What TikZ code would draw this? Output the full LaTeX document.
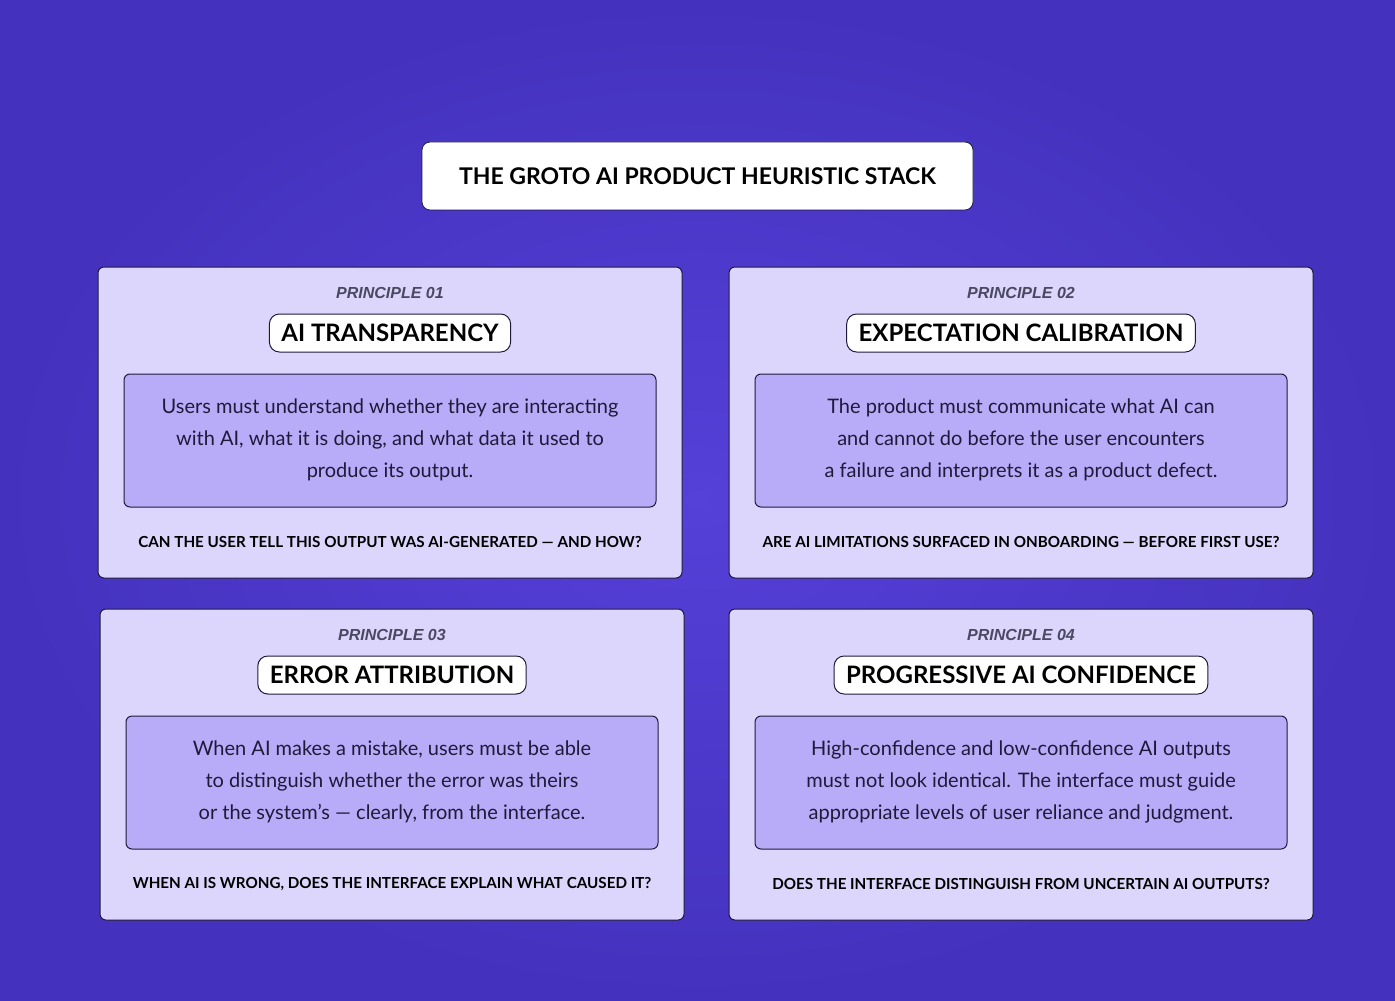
\documentclass[tikz,border=0pt]{standalone}
\usepackage{fontspec}
\setmainfont{Lato}
\newfontfamily\prinfont{Liberation Sans}
\usetikzlibrary{positioning}
\definecolor{bgmid}{HTML}{5540D8}
\definecolor{bgedge}{HTML}{4432BE}
\definecolor{cardfill}{HTML}{DCD6FC}
\definecolor{innerfill}{HTML}{B8ACF8}
\definecolor{inkline}{HTML}{1E1A3A}
\tikzset{
  cardbox/.style={draw=inkline, fill=cardfill, rounded corners=3pt, line width=0.5pt},
  innerbox/.style={draw=inkline, fill=innerfill, rounded corners=3pt, line width=0.5pt},
  tagbox/.style={draw=inkline, fill=white, rounded corners=5pt, line width=0.5pt,
    minimum height=19pt, font=\fontsize{12}{14}\selectfont\bfseries, inner xsep=6pt},
  prinlabel/.style={font=\prinfont\fontsize{8}{10}\selectfont\bfseries\itshape, text=inkline!80},
  bodytext/.style={align=center, font=\fontsize{10}{16}\selectfont, text=inkline},
  asktext/.style={font=\fontsize{7.6}{9}\selectfont\bfseries, text=black}
}
% one principle card: name, left x, top y, number, title, body, question
\newcommand{\principlecard}[7]{
  \draw[cardbox] (#2,#3) rectangle ++(584,311);
  \node[prinlabel] (#1lab) at (#2+292,#3+26) {PRINCIPLE #4};
  \node[tagbox] (#1tag) at (#2+292,#3+66) {#5};
  \draw[innerbox] (#2+26,#3+107) rectangle ++(532,133);
  \node[bodytext] (#1body) at (#2+292,#3+173) {#6};
  \node[asktext] (#1ask) at (#2+292,#3+275) {#7};
}
\begin{document}
\begin{tikzpicture}[x=0.5pt,y=-0.5pt]
\shade[inner color=bgmid, outer color=bgedge] (0,0) rectangle (1395,1000);
\useasboundingbox (0,0) rectangle (1395,1000);

% title
\node[draw=inkline, fill=white, rounded corners=4pt, minimum width=275.5pt, minimum height=34pt,
  font=\fontsize{11.5}{13}\selectfont\bfseries] (stack) at (697.5,176) {THE GROTO AI PRODUCT HEURISTIC STACK};

\principlecard{p1}{98}{267}{01}{AI TRANSPARENCY}
  {Users must understand whether they are interacting\\with AI, what it is doing, and what data it used to\\produce its output.}
  {CAN THE USER TELL THIS OUTPUT WAS AI-GENERATED — AND HOW?}
\principlecard{p2}{729}{267}{02}{EXPECTATION CALIBRATION}
  {The product must communicate what AI can\\and cannot do before the user encounters\\a failure and interprets it as a product defect.}
  {ARE AI LIMITATIONS SURFACED IN ONBOARDING — BEFORE FIRST USE?}
\principlecard{p3}{100}{609}{03}{ERROR ATTRIBUTION}
  {When AI makes a mistake, users must be able\\to distinguish whether the error was theirs\\or the system’s — clearly, from the interface.}
  {WHEN AI IS WRONG, DOES THE INTERFACE EXPLAIN WHAT CAUSED IT?}
\principlecard{p4}{729}{609}{04}{PROGRESSIVE AI CONFIDENCE}
  {High-confidence and low-confidence AI outputs\\must not look identical. The interface must guide\\appropriate levels of user reliance and judgment.}
  {DOES THE INTERFACE DISTINGUISH FROM UNCERTAIN AI OUTPUTS?}
\end{tikzpicture}
\end{document}
